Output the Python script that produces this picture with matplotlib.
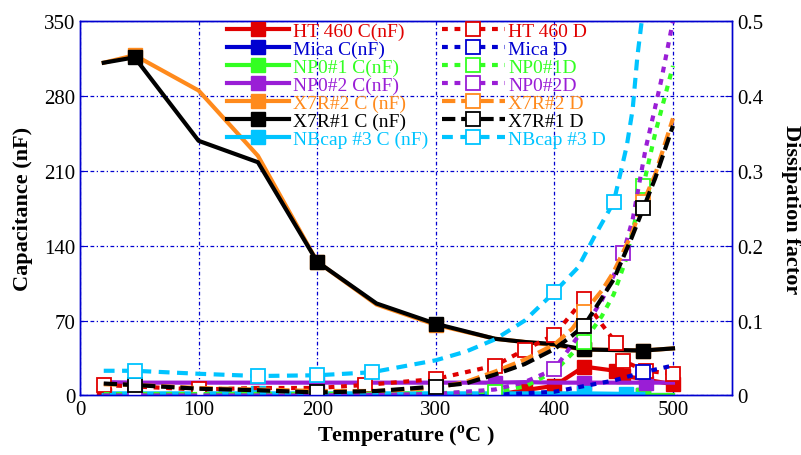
import matplotlib
matplotlib.use('Agg')
import matplotlib.pyplot as plt

plt.rcParams['font.family'] = 'Liberation Serif'
plt.rcParams['mathtext.fontset'] = 'custom'
plt.rcParams['mathtext.rm'] = 'Liberation Serif:bold'
plt.rcParams['mathtext.bf'] = 'Liberation Serif:bold'

#%% data
# HT 460
t_ht = [20, 100, 150, 200, 240, 300, 350, 375, 400, 425, 452, 458, 500]
c_ht = [0.3, 0.3, 0.3, 0.3, 0.3, 0.3, 0.3, 5, 9, 27, 23, 18.5, 10.5]
t_ht_d = [20, 100, 150, 200, 240, 300, 350, 375, 400, 425, 440, 452, 458, 477, 500]
d_ht = [0.014, 0.008, 0.010, 0.010, 0.014, 0.022, 0.040, 0.061, 0.081, 0.129,
        0.095, 0.070, 0.046, 0.033, 0.029]

# Mica
t_mica = [20, 100, 200, 300, 350, 400, 450, 475, 500]
c_mica = [0.2, 0.2, 0.2, 0.2, 0.2, 0.2, 0.2, 0.2, 0.2]
d_mica = [0.001, 0.001, 0.001, 0.001, 0.001, 0.005, 0.020, 0.031, 0.040]

# NP0#1
t_np1 = [20, 100, 200, 300, 350, 375, 400, 425, 440, 450, 460, 475, 485, 495, 500]
c_np1 = [0.8, 0.8, 0.8, 0.8, 0.8, 0.8, 0.8, 0.8, 0.8, 0.8, 0.8, 0.8, 0.8, 0.8, 0.8]
d_np1 = [0.002, 0.002, 0.002, 0.003, 0.005, 0.012, 0.032, 0.072, 0.106, 0.135,
         0.180, 0.280, 0.350, 0.410, 0.440]

# NP0#2
t_np2 = [20, 46, 100, 150, 200, 250, 300, 350, 375, 400, 425, 440, 450, 458, 466,
         477, 485, 490, 495, 500]
c_np2 = [12.5, 12, 12, 12, 12, 12, 12, 12, 12.5, 12, 12, 12, 12, 12, 12, 12, 12,
         12, 12, 12]
d_np2 = [0.0, 0.0, 0.0, 0.0, 0.0, 0.001, 0.002, 0.008, 0.018, 0.035, 0.090, 0.127,
         0.160, 0.190, 0.235, 0.330, 0.385, 0.420, 0.460, 0.500]

# X7R#1 / X7R#2
t_x7r = [20, 46, 100, 150, 200, 250, 300, 350, 375, 400, 425, 475, 500]
c_x7r1 = [311, 316, 238, 218, 125, 86, 67, 53, 50, 48, 43, 42, 44]
c_x7r2 = [311, 318, 285, 224, 125, 85, 66, 53, 50, 47, 43, 42, 44]
t_x7r_d = [20, 46, 100, 150, 200, 250, 300, 325, 350, 375, 400, 415, 425, 440, 450,
           465, 475, 485, 500]
d_x7r1 = [0.016, 0.014, 0.009, 0.007, 0.004, 0.006, 0.012, 0.016, 0.028, 0.042,
          0.062, 0.080, 0.093, 0.130, 0.155, 0.210, 0.250, 0.290, 0.360]
d_x7r2 = [0.015, 0.014, 0.010, 0.008, 0.006, 0.006, 0.010, 0.018, 0.032, 0.048,
          0.068, 0.089, 0.111, 0.140, 0.165, 0.215, 0.258, 0.295, 0.370]

# NBcap #3
t_nb = [20, 46, 100, 150, 200, 250, 300, 350, 400, 425, 460, 475]
c_nb = [2, 2, 2, 2, 2, 2, 2, 2, 2, 2, 1.5, 1.5]
t_nb_d = [20, 46, 100, 150, 200, 246, 300, 326, 350, 375, 400, 420, 434, 450, 461,
          466, 470, 476]
d_nb = [0.033, 0.033, 0.029, 0.026, 0.027, 0.031, 0.047, 0.059, 0.075, 0.100,
        0.138, 0.171, 0.213, 0.258, 0.333, 0.382, 0.453, 0.530]

RED, BLUE, GREEN, PURPLE = '#e00000', '#0000d0', '#33ff22', '#9a1ed6'
ORANGE, BLACK, CYAN = '#ff8a1c', '#000000', '#00c4ff'
AXC = '#0000d0'

#%% figure
fig = plt.figure(figsize=(8.01, 4.56), dpi=100)
ax1 = fig.add_axes([0.0999, 0.1305, 0.8143, 0.8213])
ax2 = ax1.twinx()

lw = 3
ms = 10
dot = (0, (1.4, 1.6))
dash = (0, (3.2, 1.4))

c_series = [
    (t_ht, c_ht, RED, 'HT 460 C(nF)', [0, 1, 4, 7, 8, 9, 10, 11, 12]),
    (t_mica, c_mica, BLUE, 'Mica C(nF)', [4, 7]),
    (t_np1, c_np1, GREEN, 'NP0#1 C(nF)', [4, 11]),
    (t_np2, c_np2, PURPLE, 'NP0#2 C(nF)', [4, 7, 10, 15]),
    (t_x7r, c_x7r2, ORANGE, 'X7R#2 C (nF)', [1, 4, 6, 10, 11]),
    (t_x7r, c_x7r1, BLACK, 'X7R#1 C (nF)', [1, 4, 6, 10, 11]),
    (t_nb, c_nb, CYAN, 'NBcap #3 C (nF)', [1, 3, 6, 9, 10]),
]
d_series = [
    (t_ht_d, d_ht, RED, 'HT 460 D', dot, [0, 1, 4, 5, 6, 7, 8, 9, 11, 12, 13, 14]),
    (t_mica, d_mica, BLUE, 'Mica D', dot, [7]),
    (t_np1, d_np1, GREEN, 'NP0#1D', dot, [4, 7, 11]),
    (t_np2, d_np2, PURPLE, 'NP0#2D', dot, [1, 9, 13]),
    (t_x7r_d, d_x7r2, ORANGE, 'X7R#2 D', dash, [12, 16]),
    (t_x7r_d, d_x7r1, BLACK, 'X7R#1 D', dash, [1, 4, 6, 12, 16]),
    (t_nb_d, d_nb, CYAN, 'NBcap #3 D', (0, (2.6, 1.8)), [1, 3, 4, 5, 10, 13]),
]

handles = []
for t, c, col, lab, mk in c_series:
    h, = ax1.plot(t, c, color=col, lw=lw, marker='s', ms=ms, markevery=mk,
                  mfc=col, mec=col, label=lab)
    handles.append(h)
for t, d, col, lab, ls, mk in d_series:
    h, = ax2.plot(t, d, color=col, lw=lw, ls=ls, marker='s', ms=ms - 0.5,
                  markevery=mk, mfc='white', mec=col, mew=1.3, label=lab)
    handles.append(h)

ax1.set_xlim(0, 550)
ax1.set_ylim(0, 350)
ax2.set_ylim(0, 0.5)
ax1.set_xticks([0, 100, 200, 300, 400, 500])
ax1.set_yticks([0, 70, 140, 210, 280, 350])
ax2.set_yticks([0, 0.1, 0.2, 0.3, 0.4, 0.5])
ax2.set_yticklabels(['0', '0.1', '0.2', '0.3', '0.4', '0.5'])

ax1.grid(True, color=AXC, ls=(0, (3, 2, 1, 2)), lw=0.9)
ax1.set_axisbelow(True)

for ax in (ax1, ax2):
    for sp in ax.spines.values():
        sp.set_color(AXC)
        sp.set_linewidth(1)
    ax.tick_params(direction='in', color=AXC, labelcolor='black', labelsize=15,
                   length=5)

ax1.set_xlabel(r'Temperature ($^{\rm o}$C )', fontsize=16, fontweight='bold',
               labelpad=2)
ax1.set_ylabel('Capacitance (nF)', fontsize=16, fontweight='bold', labelpad=8)
ax2.set_ylabel('Dissipation factor', fontsize=16, fontweight='bold',
               rotation=270, labelpad=27)

leg = ax2.legend(handles=handles, ncol=2, loc='upper left',
                 bbox_to_anchor=(227 / 801, 1 - 23 / 456),
                 bbox_transform=fig.transFigure, frameon=False, fontsize=14,
                 handlelength=3.2, handletextpad=0.2, columnspacing=0.72,
                 labelspacing=0.02, borderpad=0, borderaxespad=0, numpoints=1,
                 labelcolor='linecolor')

fig.savefig('out.png', dpi=100)
